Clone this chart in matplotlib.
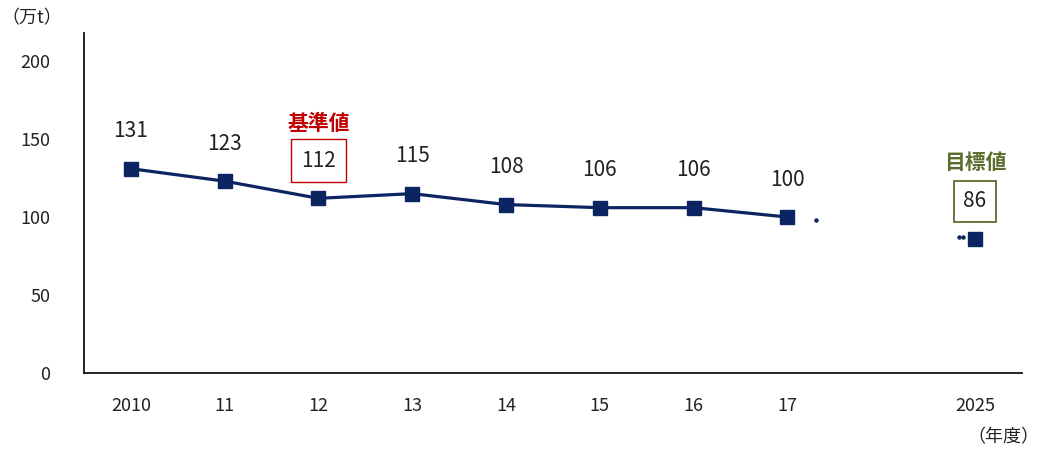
import matplotlib
matplotlib.use("Agg")
import matplotlib.pyplot as plt
import numpy as np

plt.rcParams['font.family'] = ['Noto Sans CJK JP', 'DejaVu Sans']

years = ["2010", "11", "12", "13", "14", "15", "16", "17"]
values = [131, 123, 112, 115, 108, 106, 106, 100]
target_label = "2025"
target_value = 86
yticks = [0, 50, 100, 150, 200]

navy = "#0c2461"
red = "#c00000"
green = "#5b6e2e"
txt = "#222222"

fig = plt.figure(figsize=(10.39, 4.5), dpi=100)
ax = fig.add_axes([0.0808, 0.1711, 0.9028, 0.7556])

xs = np.arange(len(years))
tx = len(years) + 1

ax.plot(xs, values, color=navy, lw=2.3, marker='s', ms=9.5, zorder=3)
ax.plot([tx], [target_value], color=navy, marker='s', ms=9.5, zorder=3)

# faint dotted connection remnants
t = np.array([0.15, 0.915, 0.935])
dx = xs[-1] + t * (tx - xs[-1])
dy = values[-1] + t * (target_value - values[-1])
ax.plot(dx, dy, ls='none', marker='o', ms=2.2, color=navy, zorder=2)

fs = 15
for x, v in zip(xs, values):
    if years[x] == "12":
        ax.annotate(str(v), (x, v), xytext=(0, 27), textcoords='offset points',
                    ha='center', va='center', fontsize=fs, color=txt,
                    bbox=dict(boxstyle='square,pad=0.5', fc='white', ec=red, lw=1))
        ax.annotate("基準値", (x, v), xytext=(0, 54), textcoords='offset points',
                    ha='center', va='center', fontsize=fs, color=red, fontweight='bold')
    else:
        ax.annotate(str(v), (x, v), xytext=(0, 27), textcoords='offset points',
                    ha='center', va='center', fontsize=fs, color=txt)

ax.annotate(str(target_value), (tx, target_value), xytext=(0, 27), textcoords='offset points',
            ha='center', va='center', fontsize=fs, color=txt,
            bbox=dict(boxstyle='square,pad=0.45', fc='white', ec=green, lw=1.3))
ax.annotate("目標値", (tx, target_value), xytext=(0, 55), textcoords='offset points',
            ha='center', va='center', fontsize=fs, color=green, fontweight='bold')

ax.set_xlim(-0.5, 9.5)
ax.set_ylim(0, 218)
ax.set_yticks(yticks)
ax.set_yticklabels([str(y) for y in yticks], fontsize=13, color=txt)
ax.set_xticks(list(xs) + [tx])
ax.set_xticklabels(years + [target_label], fontsize=13, color=txt)
ax.tick_params(axis='x', length=0, pad=17)
ax.tick_params(axis='y', length=0, pad=24)
for s in ['top', 'right']:
    ax.spines[s].set_visible(False)
for s in ['left', 'bottom']:
    ax.spines[s].set_color('#111111')
    ax.spines[s].set_linewidth(1.3)

fig.text(32 / 1039, 1 - 18 / 450, "（万t）", ha='center', va='center', fontsize=13, color=txt)
fig.text(1003 / 1039, 1 - 437 / 450, "（年度）", ha='center', va='center', fontsize=13, color=txt)

fig.savefig("out.png", dpi=100)
